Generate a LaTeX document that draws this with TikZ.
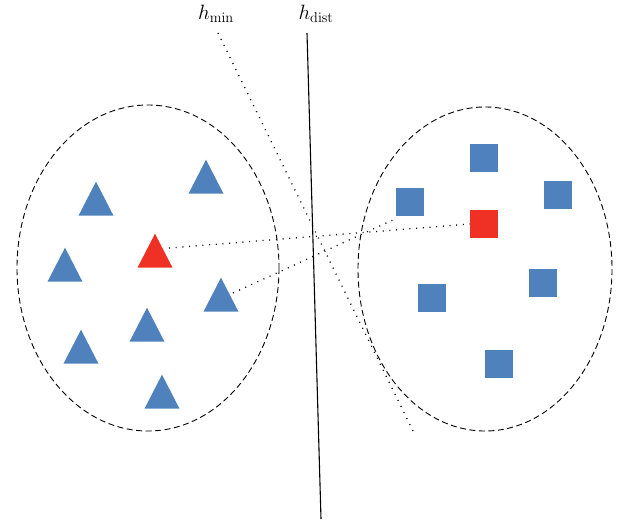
\documentclass[tikz,border=0pt]{standalone}
\usetikzlibrary{shapes.geometric}
\definecolor{sqblue}{HTML}{4F81BD}
\definecolor{sqred}{HTML}{EE3124}
\begin{document}
\begin{tikzpicture}[x=1pt,y=-1pt,
  tri/.style={isosceles triangle, isosceles triangle stretches, shape border rotate=90,
    minimum width=35pt, minimum height=34pt, inner sep=0pt, draw=none},
  sq/.style={rectangle, minimum size=27.5pt, inner sep=0pt, draw=none},
  cluster/.style={draw, line width=0.9pt, dash pattern=on 6pt off 3.5pt},
  dotline/.style={line width=1.3pt, dash pattern=on 1pt off 5.7pt},
  lbl/.style={inner sep=0pt, font=\fontsize{22}{26}\selectfont}]
\useasboundingbox (0,0) rectangle (627,525);
% clusters
\draw[cluster] (148,268) ellipse [x radius=131, y radius=163];
\draw[cluster] (485,269) ellipse [x radius=127, y radius=162];
% triangles
\node[tri, fill=sqblue] (t1) at (96,205) {};
\node[tri, fill=sqblue] (t2) at (206,183) {};
\node[tri, fill=sqblue] (t3) at (65,271) {};
\node[tri, fill=sqred]  (tr) at (155,257) {};
\node[tri, fill=sqblue] (t4) at (221,301) {};
\node[tri, fill=sqblue] (t5) at (147,331) {};
\node[tri, fill=sqblue] (t6) at (81,353) {};
\node[tri, fill=sqblue] (t7) at (162,398) {};
% squares
\node[sq, fill=sqblue] (s1) at (484,158) {};
\node[sq, fill=sqblue] (s2) at (558,195) {};
\node[sq, fill=sqblue] (s3) at (410,202) {};
\node[sq, fill=sqred]  (sr) at (484,224) {};
\node[sq, fill=sqblue] (s4) at (432,298) {};
\node[sq, fill=sqblue] (s5) at (543,283) {};
\node[sq, fill=sqblue] (s6) at (499,364) {};
% hyperplanes
\coordinate (hminT) at (218,33);
\coordinate (hminB) at (415,435);
\coordinate (hdistT) at (307,33);
\coordinate (hdistB) at (321,519);
\draw[dotline] (hminT) -- (hminB);
\draw[line width=1.1pt] (hdistT) -- (hdistB);
\node[lbl] (lmin) at (216,14) {$h_{\mathrm{min}}$};
\node[lbl] (ldist) at (316,14) {$h_{\mathrm{dist}}$};
% connectors
\coordinate (ra) at (169,248);
\coordinate (ba) at (233,293);
\draw[dotline] (ra) -- (sr.west);
\draw[dotline] (ba) -- ([xshift=-3pt,yshift=-4pt]s3.south west);
\end{tikzpicture}
\end{document}
